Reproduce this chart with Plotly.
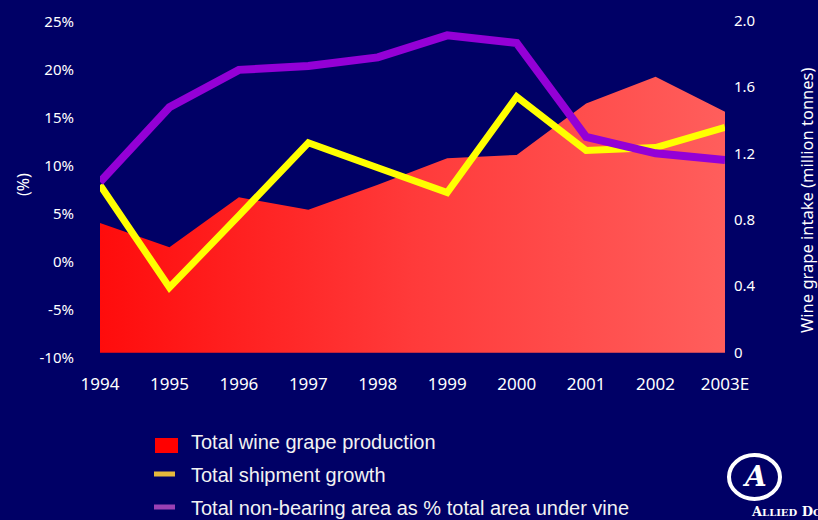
import plotly.graph_objects as go

# Data
years = ["1994", "1995", "1996", "1997", "1998", "1999", "2000", "2001", "2002", "2003E"]
grape_production = [0.78, 0.635, 0.935, 0.86, 1.01, 1.17, 1.19, 1.50, 1.66, 1.45]   # million tonnes
shipment_growth = [8.0, -2.7, 4.8, 12.4, 9.8, 7.2, 17.2, 11.6, 11.9, 14.0]           # %
non_bearing_share = [8.3, 16.1, 20.0, 20.4, 21.3, 23.6, 22.8, 13.0, 11.3, 10.6]     # %

pct_ticks = [-10, -5, 0, 5, 10, 15, 20, 25]
pct_labels = ["-10%", "-5%", "0%", "5%", "10%", "15%", "20%", "25%"]
tonne_ticks = [0, 0.4, 0.8, 1.2, 1.6, 2.0]
tonne_labels = ["0", "0.4", "0.8", "1.2", "1.6", "2.0"]

legend_items = ["Total wine grape production", "Total shipment growth",
                "Total non-bearing area as % total area under vine"]

BG = "#000066"
W, H = 818, 520
ML, MR, MT, MB = 100, 93, 20, 162
PW, PH = W - ML - MR, H - MT - MB


def px_x(px):
    return (px - ML) / PW


def px_y(py):
    return (H - MB - py) / PH


fig = go.Figure()

# Production area (right-hand scale, drawn underneath)
fig.add_trace(go.Scatter(
    x=years, y=grape_production, mode="lines", yaxis="y",
    line=dict(width=0, color="#FF3030"),
    fill="tozeroy",
    fillgradient=dict(type="horizontal",
                      colorscale=[[0, "#FF0C0C"], [0.5, "#FF3A3A"], [1, "#FF5E5C"]]),
    showlegend=False, hoverinfo="skip",
))

# Percentage series (left-hand scale)
fig.add_trace(go.Scatter(
    x=years, y=shipment_growth, mode="lines", yaxis="y2",
    line=dict(color="#FFFF00", width=7), showlegend=False,
))
fig.add_trace(go.Scatter(
    x=years, y=non_bearing_share, mode="lines", yaxis="y2",
    line=dict(color="#9400D6", width=8), showlegend=False,
))

tick_font = dict(family="Noto Sans", size=15, color="#FFFFFF")

fig.update_layout(
    width=W, height=H,
    margin=dict(l=ML, r=MR, t=MT, b=MB, autoexpand=False),
    paper_bgcolor=BG, plot_bgcolor=BG,
    showlegend=False,
    xaxis=dict(
        type="category", range=[0, 9], showgrid=False, zeroline=False,
        showline=False, ticks="", tickfont=dict(family="Noto Sans", size=17, color="#FFFFFF"),
        ticklabelstandoff=14,
    ),
    yaxis=dict(
        side="right", range=[-0.032, 2.002], tickvals=tonne_ticks, ticktext=tonne_labels,
        showgrid=False, zeroline=False, showline=False, ticks="",
        tickfont=tick_font, ticklabelstandoff=8,
    ),
    yaxis2=dict(
        side="left", overlaying="y", range=[-10.05, 25.2], tickvals=pct_ticks,
        ticktext=pct_labels, showgrid=False, zeroline=False, showline=False, ticks="",
        tickfont=tick_font, ticklabelstandoff=25,
    ),
)

annotations = [
    dict(text="(%)", x=px_x(23), y=px_y(185), xref="paper", yref="paper",
         textangle=-90, showarrow=False, xanchor="center", yanchor="middle",
         font=dict(family="Noto Sans", size=16, color="#FFFFFF")),
    dict(text="Wine grape intake (million tonnes)", x=px_x(806), y=px_y(200),
         xref="paper", yref="paper", textangle=-90, showarrow=False,
         xanchor="center", yanchor="middle",
         font=dict(family="Noto Sans", size=16.5, color="#FFFFFF")),
]

shapes = [
    # legend swatches
    dict(type="rect", xref="paper", yref="paper", x0=px_x(155), x1=px_x(178),
         y0=px_y(453), y1=px_y(438), fillcolor="#FF0000", line=dict(width=0)),
    dict(type="line", xref="paper", yref="paper", x0=px_x(154), x1=px_x(175),
         y0=px_y(474), y1=px_y(474), line=dict(color="#E6B83C", width=5)),
    dict(type="line", xref="paper", yref="paper", x0=px_x(154), x1=px_x(175),
         y0=px_y(507), y1=px_y(507), line=dict(color="#9A40B4", width=5)),
    # logo ring
    dict(type="circle", xref="paper", yref="paper", x0=px_x(729), x1=px_x(780),
         y0=px_y(499), y1=px_y(455), line=dict(color="#FFFFFF", width=4)),
]

for label, py in zip(legend_items, [442, 475, 508]):
    annotations.append(dict(
        text=label, x=px_x(189), y=px_y(py), xref="paper", yref="paper",
        showarrow=False, xanchor="left", yanchor="middle",
        font=dict(family="Liberation Sans", size=20, color="#F2F2F2"),
    ))

annotations += [
    dict(text="<b><i>A</i></b>", x=px_x(754), y=px_y(477), xref="paper", yref="paper",
         showarrow=False, xanchor="center", yanchor="middle",
         font=dict(family="DejaVu Serif", size=28, color="#FFFFFF")),
    dict(text="<b>A<span style='font-size:10px'>LLIED</span> D<span style='font-size:10px'>OMECQ</span></b>",
         x=px_x(749), y=px_y(512), xref="paper", yref="paper",
         showarrow=False, xanchor="left", yanchor="middle",
         font=dict(family="DejaVu Serif", size=13, color="#FFFFFF")),
]

fig.update_layout(annotations=annotations, shapes=shapes)

fig.write_html("out.html")
